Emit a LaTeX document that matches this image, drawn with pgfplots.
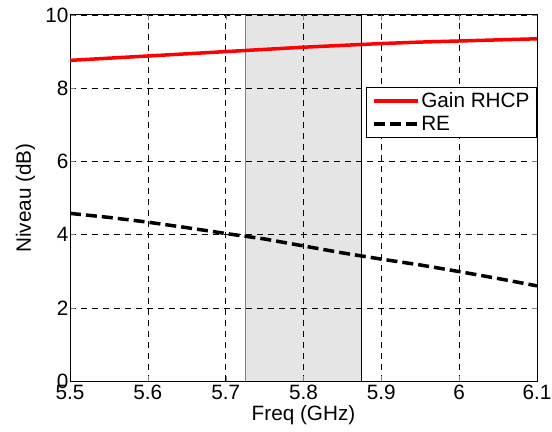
\documentclass[border=0pt]{standalone}
\usepackage{fontspec}
\setmainfont{Liberation Sans}
\usepackage{pgfplots}
\pgfplotsset{compat=1.18}
\definecolor{shade}{RGB}{229,229,229}
\begin{document}
\begin{tikzpicture}
\begin{axis}[
  scale only axis, width=467bp, height=366bp,
  xmin=5.5, xmax=6.1, ymin=0, ymax=10,
  xtick={5.5,5.6,5.7,5.8,5.9,6,6.1},
  ytick={0,2,4,6,8,10},
  xticklabels={5.5,5.6,5.7,5.8,5.9,6,6.1},
  /pgf/number format/assume math mode=true,
  tick label style={font=\fontsize{20.8}{24}\selectfont},
  label style={font=\fontsize{20.8}{24}\selectfont},
  xlabel={Freq (GHz)}, ylabel={Niveau (dB)},
  xlabel style={at={(axis description cs:0.5,-0.093)}, anchor=center},
  ylabel style={at={(axis description cs:-0.095,0.5)}, anchor=center},
  xticklabel style={yshift=-1bp, inner xsep=0bp},
  yticklabel style={xshift=2bp},
  tick align=inside, tick pos=both, major tick length=5bp,
  grid=major,
  major grid style={black, line width=0.5bp, dash pattern=on 6bp off 5bp},
  axis line style={black, line width=1bp},
  set layers,
  legend style={at={(rel axis cs:1,0.8025)}, anchor=north east, draw=black, line width=1bp,
    font=\fontsize{20.8}{24}\selectfont, fill=white, inner xsep=5bp, inner ysep=3bp, row sep=3bp},
  legend cell align=left,
  legend image code/.code={\draw[#1] (0bp,0bp) -- (44bp,0bp);},
]
\addplot[fill=shade, draw=none, forget plot, on layer=axis background] coordinates {(5.725,0) (5.725,10) (5.875,10) (5.875,0)} \closedcycle;
\addplot[gray, line width=1bp, forget plot, on layer=axis background] coordinates {(5.725,0) (5.725,10)};
\addplot[black, line width=1bp, forget plot, on layer=axis background] coordinates {(5.875,0) (5.875,10)};
\addplot[red, line width=3.5bp] coordinates {
(5.5,8.76)(5.55,8.82)(5.6,8.88)(5.65,8.94)(5.7,9.00)(5.75,9.06)(5.8,9.12)(5.85,9.17)(5.9,9.22)(5.95,9.26)(6.0,9.29)(6.05,9.32)(6.1,9.35)};
\addlegendentry{Gain RHCP}
\addplot[black, line width=3.5bp, dash pattern=on 11bp off 5bp] coordinates {
(5.5,4.58)(5.55,4.47)(5.6,4.34)(5.65,4.19)(5.7,4.03)(5.75,3.88)(5.8,3.69)(5.85,3.50)(5.9,3.33)(5.95,3.17)(6.0,2.99)(6.05,2.80)(6.1,2.60)};
\addlegendentry{RE}
\end{axis}
\path ([shift={(-70bp,-51bp)}]current axis.south west) rectangle ([shift={(15bp,15bp)}]current axis.north east);
\end{tikzpicture}
\end{document}
